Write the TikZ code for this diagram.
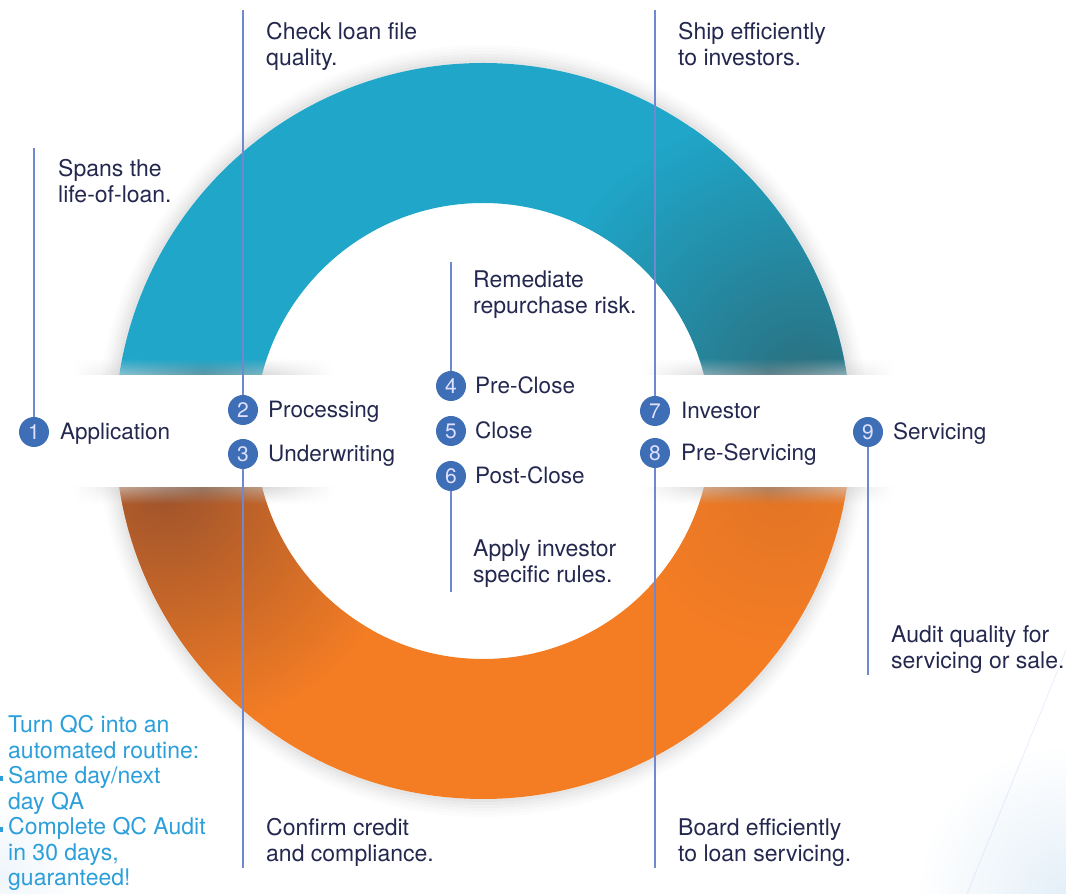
\documentclass[tikz,border=0pt]{standalone}
\usepackage{fontspec}
\setmainfont{TeX Gyre Heros}
\usetikzlibrary{fadings}
\definecolor{tealc}{HTML}{1FA6C9}
\definecolor{darkteal}{HTML}{2A6F7E}
\definecolor{orangec}{HTML}{F47D24}
\definecolor{brownc}{HTML}{9E532C}
\definecolor{navy}{HTML}{24284F}
\definecolor{numblue}{HTML}{3E6FB6}
\definecolor{linec}{HTML}{6F88CF}
\definecolor{qcblue}{HTML}{2C9FDA}
\definecolor{faintblue}{HTML}{E4EFF8}
\tikzfading[name=fadeup, top color=transparent!100, bottom color=transparent!40]
\tikzfading[name=fadedown, top color=transparent!40, bottom color=transparent!100]
\begin{document}
\begin{tikzpicture}[x=1pt,y=1pt,
  txt/.style={text=navy, font=\fontsize{23}{25.5}\selectfont, align=left, anchor=base west, inner sep=0pt},
  lbl/.style={text=navy, font=\fontsize{22.5}{24}\selectfont, anchor=base west, inner sep=0pt},
  num/.style={circle, fill=numblue, text=white!88!blue, minimum size=30pt, inner sep=0pt, font=\fontsize{21}{21}\selectfont},
  vline/.style={draw=linec, line width=1.6pt},
  bandshadow/.style={left color=white, right color=white, middle color=black!45}]
\useasboundingbox (0,0) rectangle (1066,894);
% faint background decoration
\shade[inner color=faintblue, outer color=white] (1066,0) circle (150);
\shade[inner color=faintblue!60, outer color=white] (0,20) circle (80);
\draw[faintblue!80!blue!60, line width=0.8pt, opacity=0.5] (1066,244) -- (967,0);
% ring
\coordinate (C) at (483,463);
\foreach \i/\o in {0/0.10,1/0.08,2/0.06,3/0.04,4/0.025,5/0.012}
  \draw[black, opacity=\o, line width=3pt] (C) circle ({369.5+3*\i});
\begin{scope}
  \clip (0,463) rectangle (1066,894);
  \fill[tealc, even odd rule] (C) circle (368) (C) circle (228);
  \begin{scope}[even odd rule]
    \clip (C) circle (368) (C) circle (228);
    \shade[inner color=darkteal, outer color=tealc] (805,510) circle (280);
  \end{scope}
\end{scope}
\begin{scope}
  \clip (0,0) rectangle (1066,463);
  \fill[orangec, even odd rule] (C) circle (368) (C) circle (228);
  \begin{scope}[even odd rule]
    \clip (C) circle (368) (C) circle (228);
    \shade[inner color=brownc, outer color=orangec] (165,405) circle (250);
    \shade[inner color=orangec!80!brownc, outer color=orangec] (780,400) circle (160);
  \end{scope}
\end{scope}
% white bands with shadows
\shade[bandshadow, path fading=fadeup] (72,519) rectangle (335,536);
\shade[bandshadow, path fading=fadedown] (72,390) rectangle (335,407);
\shade[bandshadow, path fading=fadeup] (640,519) rectangle (895,536);
\shade[bandshadow, path fading=fadedown] (640,390) rectangle (895,407);
\fill[white] (60,407) rectangle (345,519);
\fill[white] (630,407) rectangle (905,519);
% numbered nodes
\node[num] (n1) at (34,462) {1};
\node[num] (n2) at (243,484) {2};
\node[num] (n3) at (243,440) {3};
\node[num] (n4) at (451,508) {4};
\node[num] (n5) at (451,463) {5};
\node[num] (n6) at (451,418) {6};
\node[num] (n7) at (655,483) {7};
\node[num] (n8) at (655,441) {8};
\node[num] (n9) at (868,462) {9};
% stage labels
\node[lbl] (l1) at (60,454) {Application};
\node[lbl] (l2) at (268,476) {Processing};
\node[lbl] (l3) at (268,432) {Underwriting};
\node[lbl] (l4) at (475,500) {Pre-Close};
\node[lbl] (l5) at (475,455) {Close};
\node[lbl] (l6) at (475,410) {Post-Close};
\node[lbl] (l7) at (681,475) {Investor};
\node[lbl] (l8) at (681,433) {Pre-Servicing};
\node[lbl] (l9) at (893,454) {Servicing};
% line end points
\coordinate (t1) at (34,746);
\coordinate (t2) at (243,884);
\coordinate (b3) at (243,26);
\coordinate (t4) at (451,632);
\coordinate (b6) at (451,302);
\coordinate (t7) at (655,884);
\coordinate (b8) at (655,26);
\coordinate (b9) at (868,219);
\draw[vline] (t1) -- (n1);
\draw[vline] (t2) -- (n2);
\draw[vline] (n3) -- (b3);
\draw[vline] (t4) -- (n4);
\draw[vline] (n6) -- (b6);
\draw[vline] (t7) -- (n7);
\draw[vline] (n8) -- (b8);
\draw[vline] (n9) -- (b9);
% descriptions (anchor = baseline of last line)
\node[txt] (d1) at (58,691.5) {Spans the\\life-of-loan.};
\node[txt] (d2) at (266,828.5) {Check loan file\\quality.};
\node[txt] (d3) at (678,828.5) {Ship efficiently\\to investors.};
\node[txt] (d4) at (473,580.5) {Remediate\\repurchase risk.};
\node[txt] (d5) at (473,311.5) {Apply investor\\specific rules.};
\node[txt] (d6) at (891,225.5) {Audit quality for\\servicing or sale.};
\node[txt] (d7) at (266,32.5) {Confirm credit\\and compliance.};
\node[txt] (d8) at (678,32.5) {Board efficiently\\to loan servicing.};
\node[txt, text=qcblue] (d9) at (8,8) {Turn QC into an\\automated routine:\\Same day/next\\day QA\\Complete QC Audit\\in 30 days,\\guaranteed!};
% bullet marks, cut by the left edge
\fill[qcblue] (0,113) rectangle (2.5,118);
\fill[qcblue] (0,62) rectangle (2.5,67);
\end{tikzpicture}
\end{document}
